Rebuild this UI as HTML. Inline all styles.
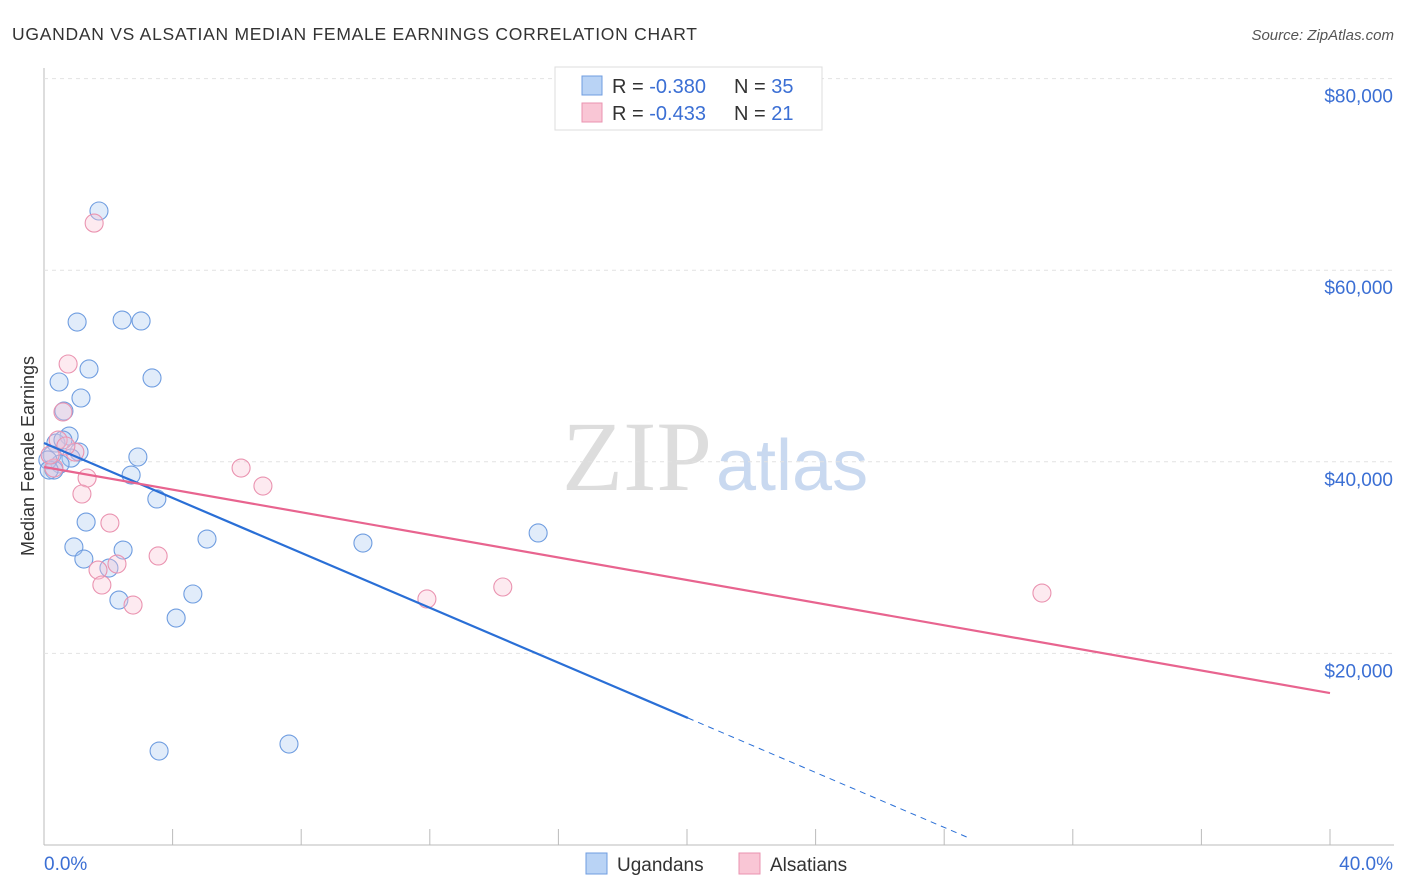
<!DOCTYPE html>
<html><head><meta charset="utf-8"><style>
body{margin:0;background:#fff;font-family:"Liberation Sans",sans-serif}
svg{display:block}
</style></head><body>
<svg id="chart" width="1406" height="892">
<text x="12" y="40" font-size="17.5" fill="#333" textLength="685">UGANDAN VS ALSATIAN MEDIAN FEMALE EARNINGS CORRELATION CHART</text>
<text x="1394" y="40" font-size="15" fill="#555" font-style="italic" text-anchor="end">Source: ZipAtlas.com</text>
<text x="712" y="490" font-size="100" fill="#ddd" text-anchor="end" font-family="Liberation Serif,serif">ZIP</text>
<text x="716" y="490" font-size="72" fill="#c9d9f0">atlas</text>
<text transform="translate(34,456) rotate(-90)" font-size="18" fill="#333" text-anchor="middle">Median Female Earnings</text>
<g id="grid"></g><g id="marks"></g>
<g>
<rect x="555" y="67" width="267" height="63" fill="#fff" stroke="#ddd"/>
<rect x="582" y="76" width="20" height="19" fill="#b9d3f5" stroke="#6f9de0"/>
<rect x="582" y="103" width="20" height="19" fill="#f9c6d5" stroke="#ea93b0"/>
<text x="612" y="93" font-size="20" fill="#333">R = <tspan fill="#3b6fd4">-0.380</tspan><tspan x="734">N = </tspan><tspan fill="#3b6fd4">35</tspan></text>
<text x="612" y="120" font-size="20" fill="#333">R = <tspan fill="#3b6fd4">-0.433</tspan><tspan x="734">N = </tspan><tspan fill="#3b6fd4"> 21</tspan></text>
</g>
<g>
<rect x="586" y="853" width="21" height="21" fill="#b9d3f5" stroke="#6f9de0"/>
<text x="617" y="871" font-size="19" fill="#333">Ugandans</text>
<rect x="739" y="853" width="21" height="21" fill="#f9c6d5" stroke="#ea93b0"/>
<text x="770" y="871" font-size="19" fill="#333">Alsatians</text>
</g>
</svg>
<script>
const yTicks=[20000,40000,60000,80000];
const yTickLabels=["$20,000","$40,000","$60,000","$80,000"];
const xTicks=[0,4,8,12,16,20,24,28,32,36,40];
const ugX=[1.71,1.03,2.43,3.02,1.40,0.47,3.36,1.15,0.62,0.78,0.37,1.09,0.84,0.25,0.50,0.31,2.92,2.71,3.51,1.31,0.93,1.24,2.46,5.07,9.92,15.37,2.02,2.33,4.63,4.11,3.58,7.62,0.12,0.59,0.16];
const ugY=[66180,54590,54800,54700,49690,48330,48750,46660,45300,42690,41960,41020,40390,40710,39770,39140,40500,38620,36120,33710,31110,29850,30790,31940,31520,32570,28910,25570,26200,23690,9810,10540,40190,42270,39140];
const alX=[1.56,0.75,0.59,0.44,0.96,0.31,1.34,1.18,2.05,6.13,6.81,3.55,2.27,1.68,1.80,2.77,11.91,14.27,31.04,0.19,0.68];
const alY=[64920,50210,45200,42270,41020,39350,38310,36640,33610,39350,37470,30170,29330,28700,27140,25050,25680,26930,26300,40710,41650];
const ugTrend=[41960,-1433];
const ugSolidEnd=20.03;
const ugDashEnd=28.8;
const alTrend=[39456,-590];
const NS="http://www.w3.org/2000/svg";
const sx=v=>44+v/40*1286, sy=v=>845-v/20000*191.6;
const grid=document.getElementById('grid'), marks=document.getElementById('marks');
function mk(tag,at,parent){const e=document.createElementNS(NS,tag);for(const k in at)e.setAttribute(k,at[k]);parent.appendChild(e);return e;}
mk('line',{x1:44,y1:68,x2:44,y2:845,stroke:'#bbb'},grid);
mk('line',{x1:44,y1:845,x2:1394,y2:845,stroke:'#bbb'},grid);
yTicks.forEach((t,i)=>{
 const g=mk('line',{x1:44,y1:sy(t),x2:1394,y2:sy(t),stroke:'#e2e2e2','stroke-dasharray':'4 4'},grid);
 
 
 const l=mk('text',{x:1393,y:sy(t)+24,'font-size':19,fill:'#3b6fd4','text-anchor':'end'},grid);
 l.textContent=yTickLabels[i];
 
 
});
xTicks.forEach(t=>{
 if(t===0)return;
 const k=mk('line',{x1:sx(t),y1:829,x2:sx(t),y2:845,stroke:'#bbb'},grid);
 
 
});
const x0=mk('text',{x:44,y:870,'font-size':19,fill:'#3b6fd4'},grid);x0.textContent='0.0%';


const x1=mk('text',{x:1393,y:870,'font-size':19,fill:'#3b6fd4','text-anchor':'end'},grid);x1.textContent='40.0%';


ugX.forEach((x,i)=>{
 const c=mk('circle',{cx:sx(x),cy:sy(ugY[i]),r:9,fill:'rgba(170,200,242,0.35)',stroke:'#6f9de0','stroke-width':1.1},marks);
 
 
});
alX.forEach((x,i)=>{
 const c=mk('circle',{cx:sx(x),cy:sy(alY[i]),r:9,fill:'rgba(248,195,212,0.35)',stroke:'#ea93b0','stroke-width':1.1},marks);
 
 
});
const t1=mk('line',{x1:sx(0),y1:sy(ugTrend[0]),x2:sx(ugSolidEnd),y2:sy(ugTrend[0]+ugTrend[1]*ugSolidEnd),stroke:'#2a6fd6','stroke-width':2.2},marks);


const t2=mk('line',{x1:sx(ugSolidEnd),y1:sy(ugTrend[0]+ugTrend[1]*ugSolidEnd),x2:sx(ugDashEnd),y2:sy(ugTrend[0]+ugTrend[1]*ugDashEnd),stroke:'#2a6fd6','stroke-width':1,'stroke-dasharray':'6 5'},marks);


const t3=mk('line',{x1:sx(0),y1:sy(alTrend[0]),x2:sx(40),y2:sy(alTrend[0]+alTrend[1]*40),stroke:'#e8648f','stroke-width':2.2},marks);


</script>
</body></html>
